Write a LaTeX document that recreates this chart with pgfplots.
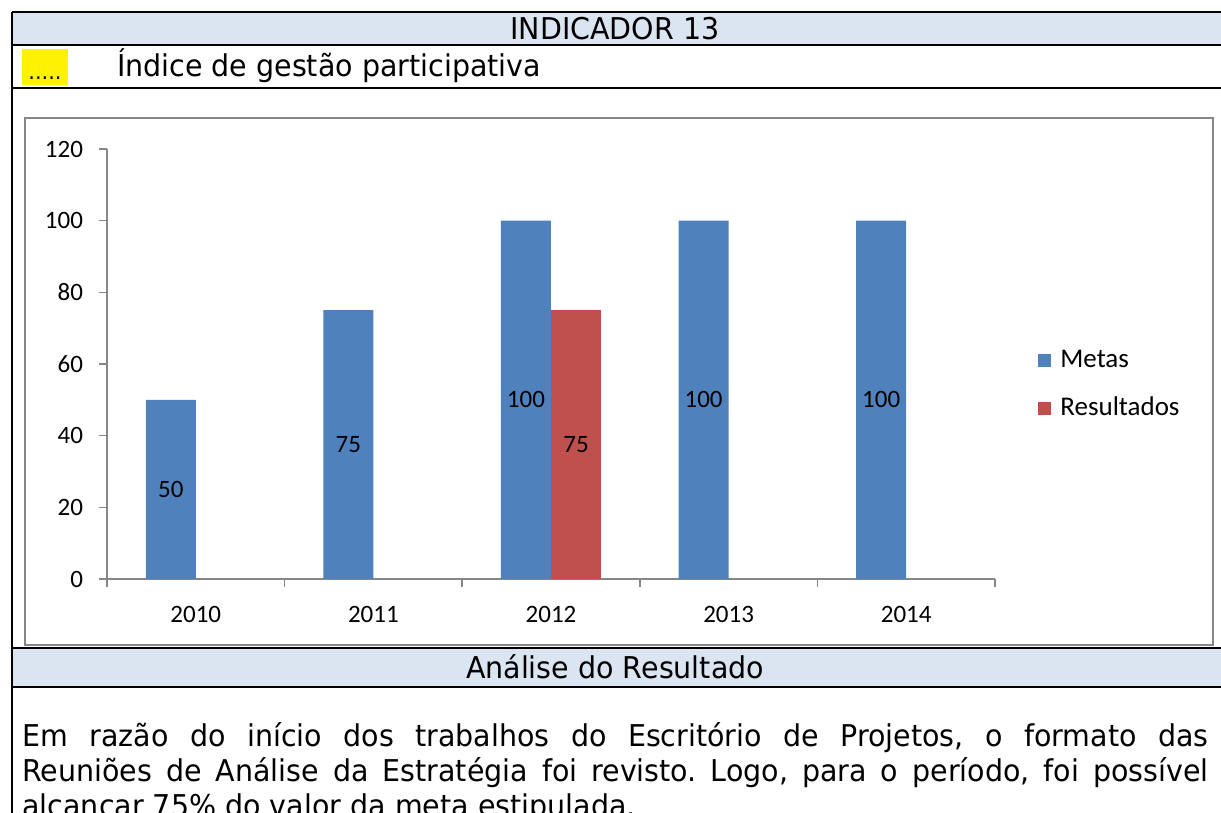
\documentclass[border=0pt]{standalone}
\usepackage{pgfplots}
\pgfplotsset{compat=1.18}
\usepackage{fontspec}
\setmainfont{Carlito}
\newfontfamily\tabfont[FakeStretch=0.95]{DejaVu Sans}
\definecolor{metas}{HTML}{4F81BD}
\definecolor{resultados}{HTML}{C0504D}
\definecolor{headfill}{HTML}{DBE5F1}
\definecolor{axisgray}{HTML}{868686}
\newcommand{\chartfont}{\fontsize{12.5}{15}\selectfont}
\newcommand{\tabsize}{\tabfont\fontsize{15}{17.5}\selectfont}
\begin{document}
\frenchspacing
\begin{tikzpicture}
\useasboundingbox (0,0) rectangle (610.5pt,406.5pt);
\clip (0,0) rectangle (610.5pt,406.5pt);
\fill[white] (0,0) rectangle (610.5pt,406.5pt);

% table frame, in pixel units of the reference (y downwards)
\begin{scope}[x=0.5pt,y=-0.5pt,shift={(0pt,406.5pt)}]
  \fill[headfill] (12,12) rectangle (1221,45);
  \fill[headfill] (12,648) rectangle (1221,687);
  \fill[yellow] (22,49) rectangle (68,85);
  \draw[axisgray, line width=1pt] (25,118) rectangle (1213,645);
  \draw[black, line width=1.2pt]
    (12,12) -- (1221,12)
    (12,45) -- (1221,45)
    (12,88) -- (1221,88)
    (12,648) -- (1221,648)
    (12,687) -- (1221,687)
    (12,12) -- (12,813);
  \node[font=\tabsize] at (615,29) {INDICADOR 13};
  \node[font=\tabsize, anchor=west] at (110,66) {Índice de gestão participativa};
  \node[font=\tabfont\fontsize{11}{13}\selectfont, anchor=base] at (45,80) {.....};
  \node[font=\tabsize] at (615,667) {Análise do Resultado};
  \node[font=\tabsize, anchor=base west, inner sep=0pt, text width=593pt, align=justify]
    at (22,747) {Em razão do início dos trabalhos do Escritório de Projetos, o formato das\linebreak
    Reuniões de Análise da Estratégia foi revisto. Logo, para o período, foi possível\linebreak
    alcançar 75\% do valor da meta estipulada.};
\end{scope}

\begin{axis}[
    at={(53.5pt,117pt)}, anchor=south west,
    scale only axis, width=444pt, height=215pt,
    xmin=-0.5, xmax=4.5, ymin=0, ymax=120,
    axis x line*=bottom, axis y line*=left,
    axis line style={draw=axisgray, line width=0.8pt},
    xtick={0,1,2,3,4},
    xticklabels={2010,2011,2012,2013,2014},
    minor xtick={-0.5,0.5,1.5,2.5,3.5,4.5},
    ytick={0,20,40,60,80,100,120},
    tick align=outside,
    major tick length=4pt, minor tick length=4pt,
    tick style={draw=axisgray, line width=0.8pt},
    major x tick style={draw=none},
    /pgf/number format/assume math mode=true,
    tick label style={font=\chartfont},
    yticklabel style={xshift=-4.5pt},
    xticklabel style={yshift=-6pt},
    legend style={at={(1.0484,0.4515)}, anchor=west, draw=none, fill=none,
      font=\fontsize{13.5}{16}\selectfont, inner sep=0pt, row sep=12pt,
      nodes={inner sep=0pt, text height=9.5pt, text depth=2.5pt}},
    legend cell align=left,
    sq legend/.style={legend image code/.code={%
      \fill[##1] (0pt,-3.2pt) rectangle (6.4pt,3.2pt);
      \path (11pt,0pt);}},
    visualization depends on=y \as \rawy,
    nodes near coords,
    nodes near coords style={font=\chartfont, anchor=center, text=black,
      shift={(axis direction cs:0,-\rawy/2)}},
]
\addplot[ybar, bar width=25pt, bar shift=-12.5pt, fill=metas, draw=none, sq legend,
    every node near coord/.append style={xshift=-12.5pt}]
  coordinates {(0,50) (1,75) (2,100) (3,100) (4,100)};
\addplot[ybar, bar width=25pt, bar shift=12.5pt, fill=resultados, draw=none, sq legend,
    every node near coord/.append style={xshift=12.5pt}]
  coordinates {(2,75)};
\legend{Metas, Resultados}
\end{axis}
\end{tikzpicture}
\end{document}
